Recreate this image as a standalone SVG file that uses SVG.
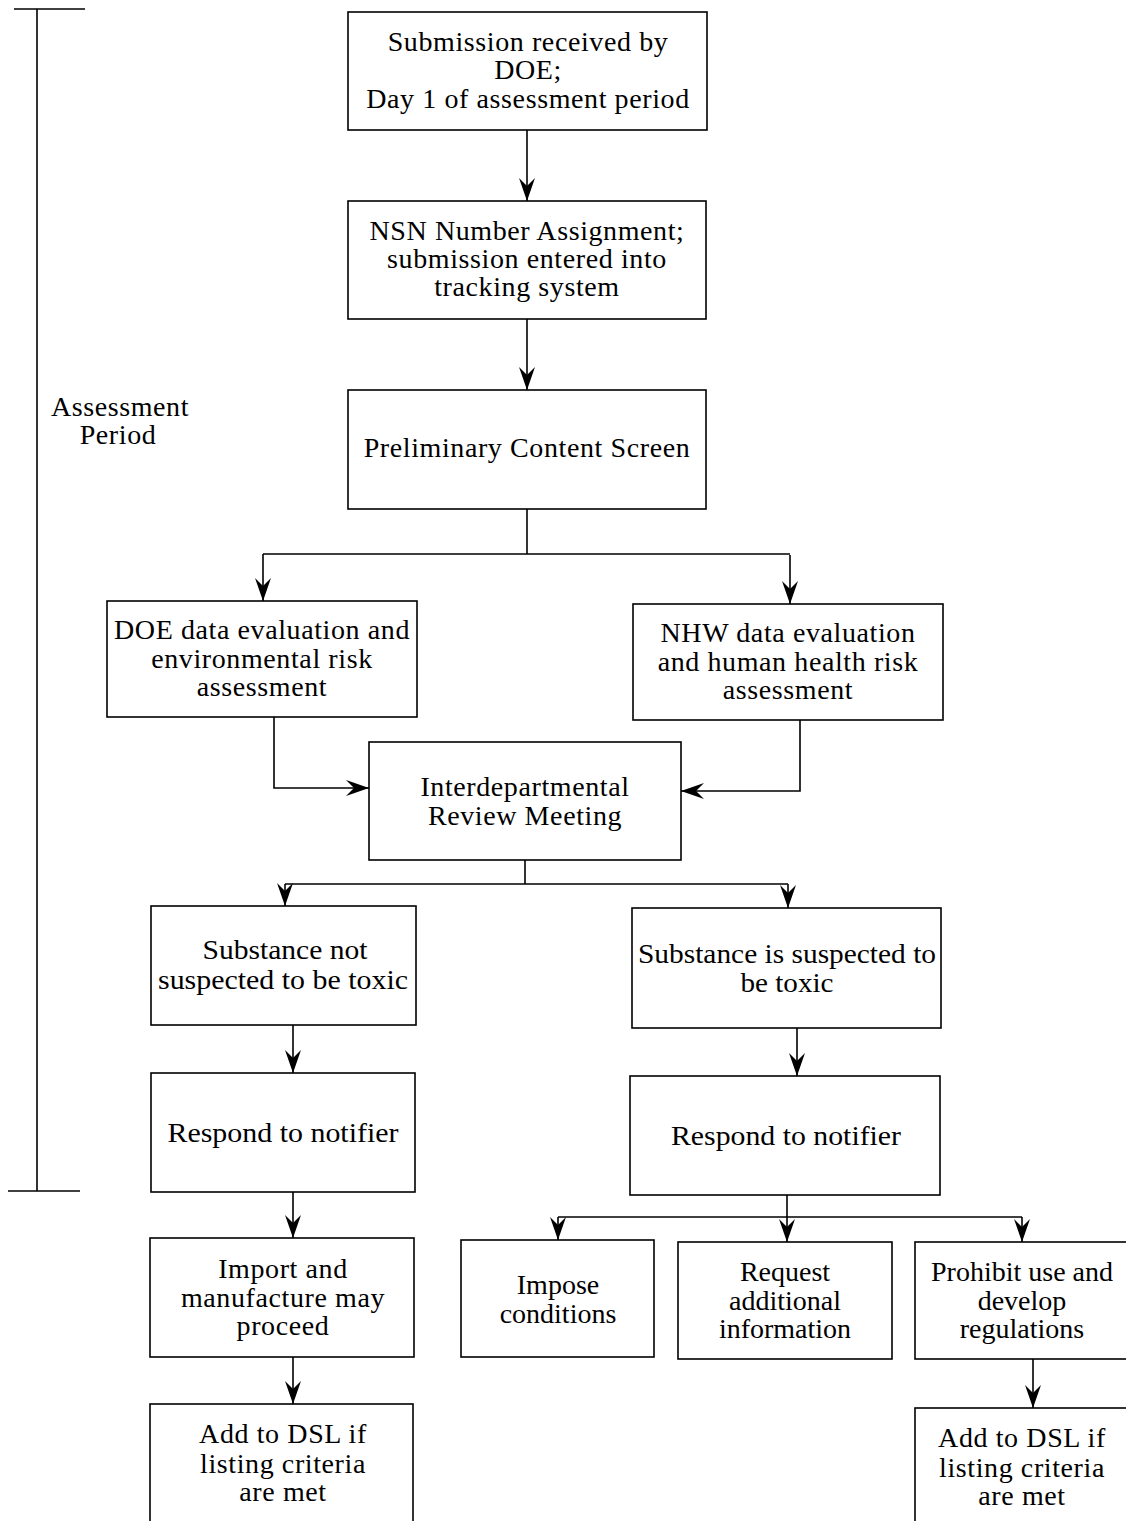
<svg xmlns="http://www.w3.org/2000/svg" width="1126" height="1521" viewBox="0 0 1126 1521">
<style>
rect.box{fill:#fff;stroke:#000;stroke-width:1.6}
text{font-family:"Liberation Serif","Times New Roman",serif;font-size:28px;letter-spacing:0.6px;fill:#000;text-anchor:middle}
text.n{letter-spacing:0}
.c path,.c line{fill:none;stroke:#000;stroke-width:1.6}
</style>
<defs>
<marker id="ah" markerUnits="userSpaceOnUse" markerWidth="30" markerHeight="20" viewBox="-24 -10 26 20" refX="0" refY="0" orient="auto">
<path d="M0,0 L-23,-8 L-15,0 L-23,8 Z" fill="#000"/>
</marker>
</defs>
<rect width="1126" height="1521" fill="#fff"/>
<g id="bracket" class="c">
<line x1="37" y1="9" x2="37" y2="1191"/>
<line x1="14" y1="9" x2="85" y2="9"/>
<line x1="8" y1="1191" x2="80" y2="1191"/>
</g>
<g id="label-assessment"><text x="120" y="416">Assessment</text><text x="118" y="444">Period</text></g>
<g class="c" id="connectors">
<path d="M527,130 V201" marker-end="url(#ah)"/>
<path d="M527,319 V390" marker-end="url(#ah)"/>
<path d="M527,509 V554"/>
<path d="M263,554 H790"/>
<path d="M263,554 V601" marker-end="url(#ah)"/>
<path d="M790,555 V604" marker-end="url(#ah)"/>
<path d="M274,717 V788 H369" marker-end="url(#ah)"/>
<path d="M800,720 V791 H681" marker-end="url(#ah)"/>
<path d="M525,860 V884"/>
<path d="M285,884 H788"/>
<path d="M285,884 V906" marker-end="url(#ah)"/>
<path d="M788,884 V908" marker-end="url(#ah)"/>
<path d="M293,1025 V1073" marker-end="url(#ah)"/>
<path d="M797,1028 V1076" marker-end="url(#ah)"/>
<path d="M293,1192 V1238" marker-end="url(#ah)"/>
<path d="M293,1357 V1404" marker-end="url(#ah)"/>
<path d="M787,1195 V1242" marker-end="url(#ah)"/>
<path d="M558,1217 H1022"/>
<path d="M558,1217 V1240" marker-end="url(#ah)"/>
<path d="M1022,1217 V1242" marker-end="url(#ah)"/>
<path d="M1033,1359 V1408" marker-end="url(#ah)"/>
</g>
<g id="n1"><rect class="box" x="348" y="12" width="359" height="118"/><text x="528" y="51">Submission received by</text><text x="528" y="79">DOE;</text><text x="528" y="108">Day 1 of assessment period</text></g>
<g id="n2"><rect class="box" x="348" y="201" width="358" height="118"/><text x="527" y="240">NSN Number Assignment;</text><text x="527" y="268">submission entered into</text><text x="527" y="296">tracking system</text></g>
<g id="n3"><rect class="box" x="348" y="390" width="358" height="119"/><text x="527" y="457">Preliminary Content Screen</text></g>
<g id="n4"><rect class="box" x="107" y="601" width="310" height="116"/><text x="262" y="639">DOE data evaluation and</text><text x="262" y="668">environmental risk</text><text x="262" y="696">assessment</text></g>
<g id="n5"><rect class="box" x="633" y="604" width="310" height="116"/><text x="788" y="642">NHW data evaluation</text><text x="788" y="671">and human health risk</text><text x="788" y="699">assessment</text></g>
<g id="n6"><rect class="box" x="369" y="742" width="312" height="118"/><text x="525" y="796">Interdepartmental</text><text x="525" y="825">Review Meeting</text></g>
<g id="n7"><rect class="box" x="151" y="906" width="265" height="119"/><text class="n" x="285" y="959" textLength="165" lengthAdjust="spacingAndGlyphs">Substance not</text><text class="n" x="283" y="989" textLength="250" lengthAdjust="spacingAndGlyphs">suspected to be toxic</text></g>
<g id="n8"><rect class="box" x="632" y="908" width="309" height="120"/><text class="n" x="787" y="963" textLength="298" lengthAdjust="spacingAndGlyphs">Substance is suspected to</text><text class="n" x="787" y="992" textLength="93" lengthAdjust="spacingAndGlyphs">be toxic</text></g>
<g id="n9"><rect class="box" x="151" y="1073" width="264" height="119"/><text class="n" x="283" y="1142" textLength="231" lengthAdjust="spacingAndGlyphs">Respond to notifier</text></g>
<g id="n10"><rect class="box" x="630" y="1076" width="310" height="119"/><text class="n" x="786" y="1145" textLength="230" lengthAdjust="spacingAndGlyphs">Respond to notifier</text></g>
<g id="n11"><rect class="box" x="150" y="1238" width="264" height="119"/><text x="283" y="1278">Import and</text><text x="283" y="1307">manufacture may</text><text x="283" y="1335">proceed</text></g>
<g id="n12"><rect class="box" x="461" y="1240" width="193" height="117"/><text class="n" x="558" y="1294">Impose</text><text class="n" x="558" y="1323">conditions</text></g>
<g id="n13"><rect class="box" x="678" y="1242" width="214" height="117"/><text class="n" x="785" y="1281">Request</text><text class="n" x="785" y="1310">additional</text><text class="n" x="785" y="1338">information</text></g>
<g id="n14"><rect class="box" x="915" y="1242" width="220" height="117"/><text class="n" x="1022" y="1281">Prohibit use and</text><text class="n" x="1022" y="1310">develop</text><text class="n" x="1022" y="1338">regulations</text></g>
<g id="n15"><rect class="box" x="150" y="1404" width="263" height="130"/><text x="283" y="1443">Add to DSL if</text><text x="283" y="1473">listing criteria</text><text x="283" y="1501">are met</text></g>
<g id="n16"><rect class="box" x="915" y="1408" width="220" height="130"/><text x="1022" y="1447">Add to DSL if</text><text x="1022" y="1477">listing criteria</text><text x="1022" y="1505">are met</text></g>
</svg>
